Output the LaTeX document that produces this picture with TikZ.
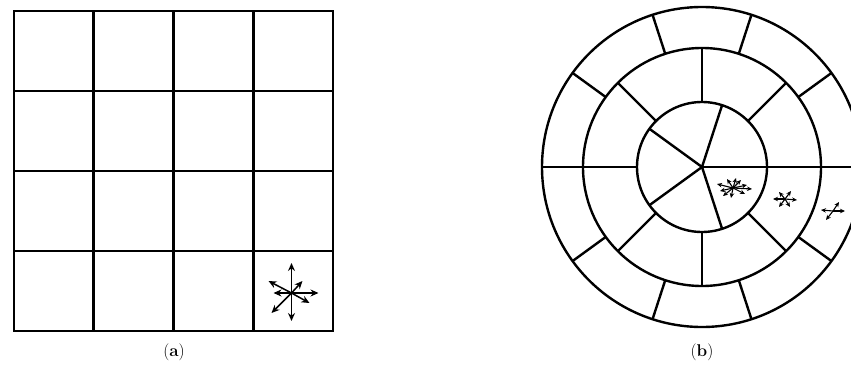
\documentclass[tikz,border=0pt]{standalone}
\usepackage{fontspec}
\usepackage{tikz}
\usetikzlibrary{arrows.meta, positioning, calc}

\begin{document}
\begin{tikzpicture}[x=1pt, y=-1pt,
                wall/.style={line width=2.8pt, line cap=rect},
                ring/.style={line width=2.4pt},
                mv/.style={-{Stealth[length=8pt, width=7pt]}, line width=1.5pt},
                mvs/.style={-{Stealth[length=5pt, width=4.5pt]}, line width=1.1pt},
                sublabel/.style={font=\fontsize{17}{20}\selectfont}]
                \useasboundingbox (0,0) rectangle (851,378);
                \clip (0,0) rectangle (851,378);
                % (a) square grid
                \foreach \i in {0,...,4} {
                    \draw[wall] (14+79.75*\i,11) -- (14+79.75*\i,331);
                    \draw[wall] (14,11+80*\i) -- (333,11+80*\i);
                }
                \coordinate (sa) at (291.5,293);
                \foreach \dx/\dy in {0/-30, 0/28, 27/0, -23/-12, -18/0, 11/-12, 18/10, -20/20}
                    \draw[mv] (sa) -- ++(\dx,\dy);
                % (b) polar grid
                \coordinate (o) at (702,167);
                \draw[ring] (o) circle[radius=160];
                \draw[ring] (o) circle[radius=119];
                \draw[ring] (o) circle[radius=65];
                \foreach \a in {0,72,...,288}
                    \draw[ring] (o) -- ++(\a:65);
                \foreach \a in {0,45,...,315}
                    \draw[ring] ($(o)+(\a:65)$) -- ($(o)+(\a:119)$);
                \foreach \a in {0,36,...,324}
                    \draw[ring] ($(o)+(\a:119)$) -- ($(o)+(\a:160)$);
                \draw[ring] (o) -- ++(160,0);
                \coordinate (s1) at (733,188);
                \coordinate (s2) at (785,199);
                \coordinate (s3) at (833,211);
                \foreach \dx/\dy in {19/1, -16/-4, 8/-8, -6/-9, 12/6, -10/8, 3/-10, -2/10, 14/-3, -13/3}
                    \draw[mvs] (s1) -- ++(\dx,\dy);
                \foreach \dx/\dy in {12/1, -12/0, 6/-8, -6/-7, 5/8, -6/8}
                    \draw[mvs] (s2) -- ++(\dx,\dy);
                \foreach \dx/\dy in {12/0, -12/-1, 6/-9, -7/9}
                    \draw[mvs] (s3) -- ++(\dx,\dy);
                % captions
                \node[sublabel] (la) at (174,352) {(\textbf{a})};
                \node[sublabel] (lb) at (702,352) {(\textbf{b})};
            \end{tikzpicture}
\end{document}
